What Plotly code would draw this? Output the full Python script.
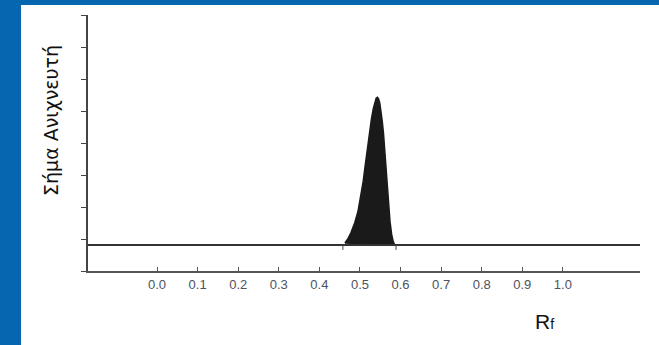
import plotly.graph_objects as go

# Data
rf_ticks = [0.0, 0.1, 0.2, 0.3, 0.4, 0.5, 0.6, 0.7, 0.8, 0.9, 1.0]
y_ticks = [0, 1, 2, 3, 4, 5, 6, 7, 8]
baseline_level = 0.81
baseline_x = [-0.17, 1.19]
peak_x = [0.463, 0.470, 0.478, 0.487, 0.495, 0.502, 0.508, 0.513, 0.518,
          0.523, 0.528, 0.533, 0.537, 0.540, 0.543, 0.546, 0.549, 0.552,
          0.555, 0.558, 0.562, 0.566, 0.570, 0.574, 0.578, 0.582, 0.586]
peak_y = [0.875, 1.0, 1.2, 1.5, 1.85, 2.3, 2.8, 3.3, 3.8,
          4.3, 4.72, 5.08, 5.3, 5.40, 5.43, 5.38, 5.24, 5.0,
          4.68, 4.3, 3.6, 2.8, 2.1, 1.55, 1.15, 0.92, 0.81]
foot_marks_x = [0.458, 0.589]
foot_marks_y = [0.81, 0.66]

fig = go.Figure()

fig.add_trace(go.Scatter(
    x=peak_x + [peak_x[0]], y=peak_y + [peak_y[0]],
    mode="lines", fill="toself", fillcolor="#1a1a1a",
    line=dict(color="#1a1a1a", width=1.5), hoverinfo="skip", showlegend=False))

fig.add_trace(go.Scatter(
    x=baseline_x, y=[baseline_level, baseline_level], mode="lines",
    line=dict(color="#333333", width=2), showlegend=False))

for fx in foot_marks_x:
    fig.add_trace(go.Scatter(
        x=[fx, fx], y=foot_marks_y, mode="lines",
        line=dict(color="#444444", width=1), showlegend=False))

W, H = 659, 345
ml, mr, mt, mb = 88, 19, 15, 74
pw = W - ml - mr
ph = H - mt - mb

fig.update_layout(
    width=W, height=H,
    margin=dict(l=ml, r=mr, t=mt, b=mb),
    paper_bgcolor="white", plot_bgcolor="white",
    font=dict(family="Liberation Sans, Arial, sans-serif"),
    xaxis=dict(range=[-0.17, 1.19], tickvals=rf_ticks,
               ticktext=[f"{v:.1f}" for v in rf_ticks],
               ticks="inside", ticklen=4, tickwidth=1, tickcolor="#555",
               showline=True, linecolor="#555", linewidth=2,
               showgrid=False, zeroline=False,
               tickfont=dict(size=13, color="#4d5260")),
    yaxis=dict(range=[0, 8], tickvals=y_ticks, ticks="outside", ticklen=5,
               tickwidth=1, tickcolor="#444", showticklabels=False,
               showline=True, linecolor="#444", linewidth=2,
               showgrid=False, zeroline=False),
    shapes=[
        dict(type="rect", xref="paper", yref="paper",
             x0=-ml / pw, x1=(21 - ml) / pw, y0=-mb / ph, y1=1 + mt / ph,
             fillcolor="#0766b0", line=dict(width=0), layer="above"),
        dict(type="rect", xref="paper", yref="paper",
             x0=-ml / pw, x1=1 + mr / pw, y0=1 + (mt - 5) / ph, y1=1 + mt / ph,
             fillcolor="#0766b0", line=dict(width=0), layer="above"),
    ],
    annotations=[
        dict(text="Σήμα Ανιχνευτή", textangle=-90, showarrow=False,
             xref="paper", yref="paper", x=(51 - ml) / pw, y=(271 - 121) / ph,
             xanchor="center", yanchor="middle",
             font=dict(size=19, color="#111", family="DejaVu Sans, sans-serif")),
        dict(text="R<span style='font-size:14px'>f</span>", showarrow=False,
             xref="paper", yref="paper", x=(544 - ml) / pw, y=(271 - 321) / ph,
             xanchor="center", yanchor="middle",
             font=dict(size=21, color="#111")),
    ],
)

fig.write_html("out.html")
